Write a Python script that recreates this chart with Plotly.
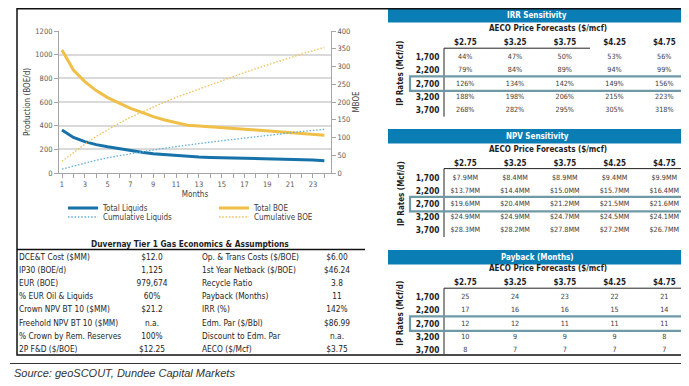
import plotly.graph_objects as go

W, H = 689, 386          # browser window
OFF = 8                  # default body margin of the page
FW, FH = W - OFF, H - OFF

# ---------------- data ----------------
months = list(range(1, 25))
total_liquids = [363, 300, 265, 240, 222, 205, 189, 176, 163, 155, 146, 140,
                 135, 132, 130, 127, 124, 121, 118, 116, 115, 112, 110, 104]
total_boe = [1039, 870, 772, 696, 637, 589, 546, 513, 476, 448, 425, 403,
             397, 389, 380, 375, 369, 363, 355, 349, 341, 332, 324, 318]
cum_liquids = [11, 20, 28, 36, 43, 49, 55, 60, 65, 70, 75, 79,
               83, 87, 91, 95, 99, 103, 106, 110, 113, 117, 120, 123]
cum_boe = [33, 58, 81, 103, 122, 140, 157, 172, 187, 200, 213, 225,
           237, 249, 260, 272, 283, 294, 305, 315, 325, 335, 345, 354]

econ_labels_left = ["DCE&T Cost ($MM)", "IP30 (BOE/d)", "EUR (BOE)", "% EUR Oil & Liquids",
                    "Crown NPV BT 10 ($MM)", "Freehold NPV BT 10 ($MM)",
                    "% Crown by Rem. Reserves", "2P F&D ($/BOE)"]
econ_values_left = ["$12.0", "1,125", "979,674", "60%", "$21.2", "n.a.", "100%", "$12.25"]
econ_labels_right = ["Op. & Trans Costs ($/BOE)", "1st Year Netback ($/BOE)", "Recycle Ratio",
                     "Payback (Months)", "IRR (%)", "Edm. Par ($/Bbl)",
                     "Discount to Edm. Par", "AECO ($/Mcf)"]
econ_values_right = ["$6.00", "$46.24", "3.8", "11", "142%", "$86.99", "n.a.", "$3.75"]

price_labels = ["$2.75", "$3.25", "$3.75", "$4.25", "$4.75"]
ip_rates = ["1,700", "2,200", "2,700", "3,200", "3,700"]
highlight_rate = "2,700"
irr_pct = [[44, 47, 50, 53, 56],
           [79, 84, 89, 94, 99],
           [126, 134, 142, 149, 156],
           [188, 198, 206, 215, 223],
           [268, 282, 295, 305, 318]]
npv_mm = [[7.9, 8.4, 8.9, 9.4, 9.9],
          [13.7, 14.4, 15.0, 15.7, 16.4],
          [19.6, 20.4, 21.2, 21.5, 21.6],
          [24.9, 24.9, 24.7, 24.5, 24.1],
          [28.3, 28.2, 27.8, 27.2, 26.7]]
payback_months = [[25, 24, 23, 22, 21],
                  [17, 16, 16, 15, 14],
                  [12, 12, 11, 11, 11],
                  [10, 9, 9, 9, 8],
                  [8, 7, 7, 7, 7]]

# ---------------- style ----------------
FONT = "DejaVu Sans Condensed, Liberation Sans, sans-serif"
BLUE_HDR = "#0b7db5"
C_LIQ = "#1672a9"
C_BOE = "#f0bf48"
C_CLIQ = "#5eaed6"
C_CBOE = "#f0bf52"
AX = "#a6a6a6"
TXT = "#404040"
DARK = "#1e1e1e"
HL = "#6f9aa5"
DOTS = "1.5px,1.8px"


def px(x):
    return (x - OFF) / FW


def py(y):
    return 1 - (y - OFF) / FH


fig = go.Figure()

# ---------------- chart ----------------
fig.add_trace(go.Scatter(x=months, y=total_liquids, name="Total Liquids", mode="lines",
                         line=dict(color=C_LIQ, width=3), legend="legend"))
fig.add_trace(go.Scatter(x=months, y=total_boe, name="Total BOE", mode="lines",
                         line=dict(color=C_BOE, width=3), legend="legend"))
fig.add_trace(go.Scatter(x=months, y=cum_liquids, name="Cumulative Liquids", mode="lines",
                         line=dict(color=C_CLIQ, width=1.3, dash=DOTS), yaxis="y2", legend="legend2"))
fig.add_trace(go.Scatter(x=months, y=cum_boe, name="Cumulative BOE", mode="lines",
                         line=dict(color=C_CBOE, width=1.3, dash=DOTS), yaxis="y2", legend="legend2"))

# ---------------- economics table ----------------
ECON_COL_X = [19, 152, 202, 337]
rows = list(range(len(econ_labels_left)))
for col, (vals, pos) in enumerate([(econ_labels_left, "middle right"), (econ_values_left, "middle center"),
                                   (econ_labels_right, "middle right"), (econ_values_right, "middle center")]):
    fig.add_trace(go.Scatter(x=[ECON_COL_X[col]] * len(rows), y=rows, text=vals, mode="text",
                             textposition=pos, textfont=dict(family=FONT, size=8.3, color=DARK),
                             xaxis="x3", yaxis="y3", showlegend=False, hoverinfo="skip"))

# ---------------- sensitivity tables ----------------
tables = [
    ("IRR Sensitivity", [[f"{v}%" for v in r] for r in irr_pct], 8, 57.3),
    ("NPV Sensitivity", [[f"${v:.1f}MM" for v in r] for r in npv_mm], 129, 177.7),
    ("Payback (Months)", [[f"{v}" for v in r] for r in payback_months], 250, 297.3),
]
PITCH = 13.2
annotations = []
shapes = []

for k, (title, cells, hdr_top, row0) in enumerate(tables):
    ax = k + 4
    xs = [p for r in ip_rates for p in price_labels]
    ys = [r for r in ip_rates for p in price_labels]
    txt = [c for row in cells for c in row]
    fig.add_trace(go.Scatter(x=xs, y=ys, text=txt, mode="text", textposition="middle center",
                             textfont=dict(family=FONT, size=7.2, color=TXT),
                             xaxis=f"x{ax}", yaxis=f"y{ax}", showlegend=False, hoverinfo="skip"))
    top = row0 - PITCH / 2
    bot = row0 + 4 * PITCH + PITCH / 2
    fig.layout[f"xaxis{ax}"] = dict(
        domain=[px(440.4), px(684.2)], type="category", categoryorder="array",
        categoryarray=price_labels, range=[-0.5, 4.4], side="top", anchor=f"y{ax}",
        showgrid=False, zeroline=False, showline=False, ticks="", ticklabelstandoff=3,
        tickfont=dict(family=FONT, size=8, color=DARK, weight="bold"), fixedrange=True)
    fig.layout[f"yaxis{ax}"] = dict(
        domain=[py(bot), py(top)], type="category", categoryorder="array",
        categoryarray=ip_rates, range=[4.5, -0.5], anchor=f"x{ax}",
        showgrid=False, zeroline=False, showline=False, ticks="",
        tickfont=dict(family=FONT, size=8.3, color=DARK, weight="bold"), fixedrange=True)
    # header bar
    shapes.append(dict(type="rect", xref="paper", yref="paper", x0=px(388), x1=px(686),
                       y0=py(hdr_top + 14.5), y1=py(hdr_top), fillcolor=BLUE_HDR, line=dict(width=0),
                       layer="below"))
    annotations.append(dict(text=f"<b>{title}</b>", xref="paper", yref="paper", x=px(537),
                            y=py(hdr_top + 7.5), showarrow=False, xanchor="center", yanchor="middle",
                            font=dict(family=FONT, size=8, color="white")))
    annotations.append(dict(text="<b>AECO Price Forecasts ($/mcf)</b>", xref="paper", yref="paper",
                            x=px(548), y=py(row0 - 28.5), showarrow=False, xanchor="center",
                            yanchor="middle", font=dict(family=FONT, size=8, color=DARK)))
    annotations.append(dict(text="<b>IP Rates (Mcf/d)</b>", xref="paper", yref="paper", x=px(401),
                            y=py(row0 + 2 * PITCH - 10), showarrow=False, textangle=-90,
                            xanchor="center", yanchor="middle", font=dict(family=FONT, size=8, color=DARK)))
    # box lines
    line_end = 590 if k == 0 else 686
    shapes.append(dict(type="line", xref="paper", yref="paper", x0=px(444), x1=px(line_end),
                       y0=py(top - 2.5), y1=py(top - 2.5), line=dict(color="#222222", width=1)))
    shapes.append(dict(type="line", xref="paper", yref="paper", x0=px(444), x1=px(444),
                       y0=py(top - 2.5), y1=py(min(bot, 354)), line=dict(color="#222222", width=1)))
    # highlight box around the highlighted IP rate row
    hi = ip_rates.index(highlight_rate)
    shapes.append(dict(type="rect", xref="paper", yref=f"y{ax}", x0=px(410), x1=px(685.5),
                       y0=hi - 0.55, y1=hi + 0.55, line=dict(color=HL, width=2.2)))

# frame and separators
shapes += [
    dict(type="rect", xref="paper", yref="paper", x0=px(17), x1=px(686), y0=py(355), y1=py(8.8),
         line=dict(color="#111111", width=1.5)),
    dict(type="line", xref="paper", yref="paper", x0=px(17), x1=px(365), y0=py(249.5), y1=py(249.5),
         line=dict(color="#111111", width=1.3)),
    dict(type="line", xref="paper", yref="paper", x0=px(10), x1=px(689), y0=py(363.5), y1=py(363.5),
         line=dict(color="#333333", width=1)),
]
annotations += [
    dict(text="<b>Duvernay Tier 1 Gas Economics & Assumptions</b>", xref="paper", yref="paper",
         x=px(190), y=py(244), showarrow=False, xanchor="center", yanchor="middle",
         font=dict(family=FONT, size=8.3, color=DARK)),
    dict(text="<i>Source: geoSCOUT, Dundee Capital Markets</i>", xref="paper", yref="paper",
         x=px(12), y=py(373), showarrow=False, xanchor="left", yanchor="middle",
         font=dict(family="Liberation Sans, Arial, sans-serif", size=11, color="#333333")),
]

tickf = dict(family=FONT, size=7.5, color="#595959")
titf = dict(family=FONT, size=8, color=TXT)
legf = dict(family=FONT, size=8, color=TXT)
fig.update_layout(
    width=FW, height=FH, margin=dict(l=0, r=0, t=0, b=0, autoexpand=False),
    paper_bgcolor="white", plot_bgcolor="white",
    font=dict(family=FONT, color=TXT),
    xaxis=dict(domain=[px(59), px(331)], range=[0.737, 24.58], anchor="y", tick0=1, dtick=2,
               ticks="outside", ticklen=4, tickcolor=AX, showline=True, linecolor=AX, linewidth=1,
               showgrid=False, zeroline=False, tickfont=tickf,
               minor=dict(tick0=1, dtick=1, ticks="outside", ticklen=4, tickcolor=AX),
               title=dict(text="Months", font=titf, standoff=3), fixedrange=True),
    yaxis=dict(domain=[py(173), py(31)], range=[0, 1200], dtick=200, anchor="x",
               ticks="outside", ticklen=4, tickcolor=AX, showline=True, linecolor=AX, linewidth=1,
               showgrid=True, gridcolor="#dadada", gridwidth=1.5, zeroline=False, tickfont=tickf,
               title=dict(text="Production (BOE/d)", font=titf, standoff=3), fixedrange=True),
    yaxis2=dict(overlaying="y", side="right", anchor="x", range=[0, 400], dtick=50,
                ticks="outside", ticklen=4, tickcolor=AX, showline=True, linecolor=AX, linewidth=1,
                showgrid=False, zeroline=False, tickfont=tickf,
                title=dict(text="MBOE", font=titf, standoff=4), fixedrange=True),
    xaxis3=dict(domain=[0, 1], range=[OFF, W], visible=False, anchor="y3", fixedrange=True),
    yaxis3=dict(domain=[py(258 + 7 * 13.1 + 6.55), py(258 - 6.55)], range=[7.5, -0.5],
                visible=False, anchor="x3", fixedrange=True),
    legend=dict(orientation="h", x=px(63), y=py(208), xanchor="left", yanchor="middle",
                entrywidth=106, entrywidthmode="pixels", font=legf,
                bgcolor="rgba(0,0,0,0)", itemwidth=30, borderwidth=0),
    legend2=dict(orientation="h", x=px(63), y=py(217), xanchor="left", yanchor="middle",
                 entrywidth=106, entrywidthmode="pixels", font=legf,
                 bgcolor="rgba(0,0,0,0)", itemwidth=30, borderwidth=0),
    shapes=shapes, annotations=annotations,
)

fig.write_html("out.html")
